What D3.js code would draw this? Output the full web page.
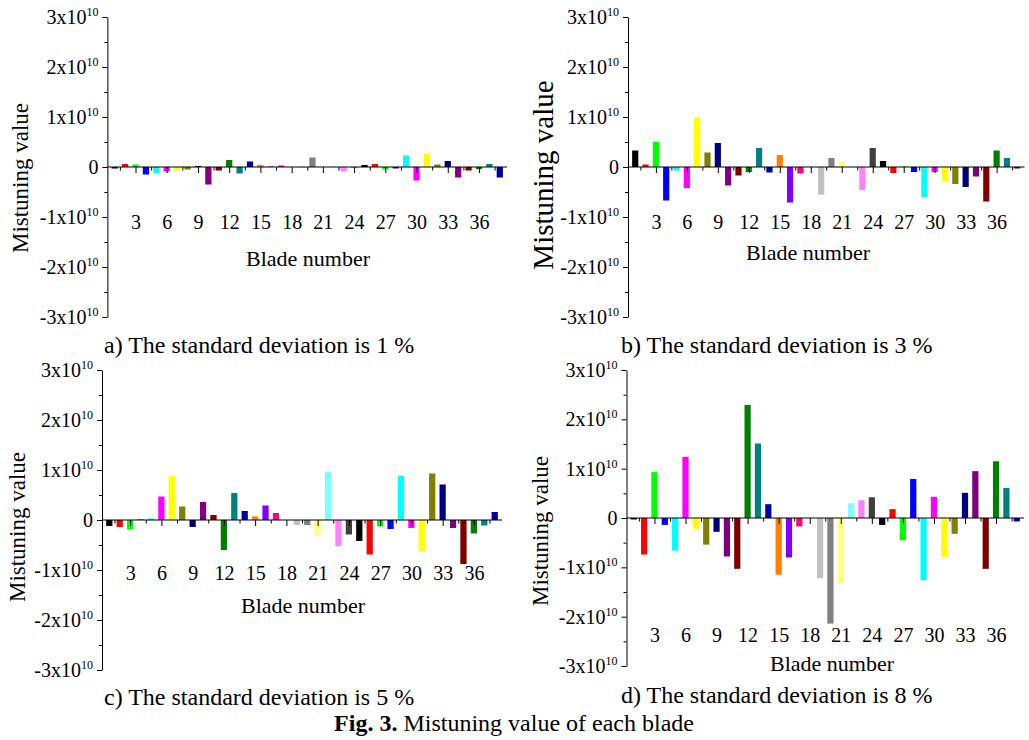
<!DOCTYPE html>
<html>
<head>
<meta charset="utf-8">
<script src="https://cdn.jsdelivr.net/npm/d3@7"></script>
<style>
  body { margin: 0; background: #fff; }
  svg { display: block; font-family: "Liberation Serif", "Times New Roman", serif; }
</style>
</head>
<body>
<svg id="chart" width="1029" height="740"></svg>
<script>
// Mistuning value per blade, in units of 1x10^10.
const blades = d3.range(1, 39);
const sd1 = [-0.03, 0.06, 0.05, -0.15, -0.12, -0.09, -0.07, -0.05, 0.02, -0.35, -0.07, 0.14, -0.13, 0.11, 0.04, 0.01, 0.03, 0, -0.01, 0.19,
  0.01, 0.01, -0.09, -0.01, 0.04, 0.06, -0.05, -0.03, 0.23, -0.27, 0.26, 0.05, 0.12, -0.21, -0.07, -0.04, 0.06, -0.21];
const sd3 = [0.33, 0.05, 0.5, -0.67, -0.07, -0.42, 0.99, 0.29, 0.48, -0.37, -0.17, -0.1, 0.38, -0.11, 0.24, -0.71, -0.13, 0, -0.55, 0.18,
  0.1, -0.01, -0.46, 0.38, 0.12, -0.12, 0.01, -0.1, -0.6, -0.1, -0.29, -0.34, -0.4, -0.19, -0.69, 0.33, 0.18, -0.03];
const sd5 = [-0.12, -0.14, -0.19, 0.01, 0.03, 0.47, 0.88, 0.27, -0.14, 0.36, 0.1, -0.6, 0.54, 0.18, 0.07, 0.29, 0.14, 0, -0.1, -0.1,
  -0.32, 0.97, -0.52, -0.29, -0.42, -0.69, -0.13, -0.18, 0.88, -0.16, -0.63, 0.93, 0.71, -0.16, -0.88, -0.27, -0.11, 0.16];
const sd8 = [-0.03, -0.74, 0.93, -0.14, -0.66, 1.24, -0.22, -0.54, -0.28, -0.78, -1.03, 2.29, 1.51, 0.28, -1.15, -0.8, -0.17, 0, -1.22, -2.14,
  -1.32, 0.3, 0.36, 0.42, -0.14, 0.18, -0.45, 0.79, -1.26, 0.43, -0.79, -0.32, 0.51, 0.95, -1.03, 1.15, 0.61, -0.07];

// Origin default colour cycle (24 colours, then it starts again).
const originColors = ['#000000', '#FF0000', '#00FF00', '#0000FF', '#00FFFF', '#FF00FF', '#FFFF00', '#808000',
  '#000080', '#800080', '#800000', '#008000', '#008080', '#0000A0', '#FF8000', '#8000FF',
  '#FF0080', '#FFFFFF', '#C0C0C0', '#808080', '#FFFF80', '#80FFFF', '#FF80FF', '#404040'];

const yTicks = [-3, -2, -1, 0, 1, 2, 3];
const yMinorTicks = [-2.5, -1.5, -0.5, 0.5, 1.5, 2.5];
const xTickLabels = [3, 6, 9, 12, 15, 18, 21, 24, 27, 30, 33, 36];
const xMinorTicks = d3.range(1.5, 38, 3);
const captions = ['a) The standard deviation is 1 %', 'b) The standard deviation is 3 %',
  'c) The standard deviation is 5 %', 'd) The standard deviation is 8 %'];
const yTitle = 'Mistuning value';
const xTitle = 'Blade number';

// Panel layout (pixels), one per sub-figure.
const panels = [
  {values: sd1, x0: 107.4, x1: 507.1, top: 17, bottom: 317, tickLabelY: 222, xTitleX: 308, xTitleY: 258, yTitleX: 20, yTitleY: 178, yTitleSize: 23, capX: 104, capY: 345},
  {values: sd3, x0: 628, x1: 1024.5, top: 17, bottom: 317, tickLabelY: 222, xTitleX: 808, xTitleY: 252, yTitleX: 543, yTitleY: 175, yTitleSize: 29, capX: 621, capY: 345},
  {values: sd5, x0: 102, x1: 502, top: 370, bottom: 670, tickLabelY: 573, xTitleX: 303, xTitleY: 605, yTitleX: 17, yTitleY: 527, yTitleSize: 23, capX: 104, capY: 697},
  {values: sd8, x0: 626.5, x1: 1024, top: 370, bottom: 666, tickLabelY: 635, xTitleX: 832, xTitleY: 663, yTitleX: 540, yTitleY: 531, yTitleSize: 23, capX: 621, capY: 695}
];

const svg = d3.select('#chart');

panels.forEach((p, pi) => {
  const g = svg.append('g');

  const x = d3.scaleBand().domain(blades).range([p.x0, p.x1]).padding(0.4);
  const center = k => x(k) + x.bandwidth() / 2;
  const xl = d3.scaleLinear().domain([1, 38]).range([center(1), center(38)]);
  const y = d3.scaleLinear().domain([-3, 3]).range([p.bottom, p.top]);
  const y0 = y(0);

  // Bars
  g.append('g').selectAll('rect')
    .data(p.values)
    .join('rect')
    .attr('x', (d, i) => x(blades[i]))
    .attr('width', x.bandwidth())
    .attr('y', d => Math.min(y(d), y0))
    .attr('height', d => Math.abs(y(d) - y0))
    .attr('fill', (d, i) => originColors[i % originColors.length]);

  // Y axis with 3x10^10 style labels
  const yAxis = g.append('g')
    .attr('transform', `translate(${p.x0},0)`)
    .call(d3.axisLeft(y).tickValues(yTicks).tickSize(5).tickSizeOuter(0).tickPadding(4));
  yAxis.selectAll('text')
    .attr('font-size', 20)
    .attr('font-family', '"Liberation Serif", "Times New Roman", serif')
    .attr('fill', '#000')
    .each(function(d) {
      const t = d3.select(this);
      t.text(d === 0 ? '0' : `${d}x10`);
      if (d !== 0) t.append('tspan').attr('dy', '-0.65em').attr('font-size', 12).text('10');
    });
  g.append('g')
    .attr('transform', `translate(${p.x0},0)`)
    .call(d3.axisLeft(y).tickValues(yMinorTicks).tickSize(3).tickFormat(''))
    .call(s => s.select('.domain').remove());

  // X axis on the zero line
  g.append('line')
    .attr('x1', p.x0).attr('x2', p.x1)
    .attr('y1', y0).attr('y2', y0)
    .attr('stroke', '#000');
  const xAxis = g.append('g')
    .attr('transform', `translate(0,${y0})`)
    .call(d3.axisBottom(xl).tickValues(xTickLabels).tickSize(6).tickFormat(d3.format('d')))
    .call(s => s.select('.domain').remove());
  xAxis.selectAll('text')
    .attr('y', p.tickLabelY - y0)
    .attr('dy', '0.35em')
    .attr('font-size', 20)
    .attr('font-family', '"Liberation Serif", "Times New Roman", serif')
    .attr('fill', '#000');
  g.append('g')
    .attr('transform', `translate(0,${y0})`)
    .call(d3.axisBottom(xl).tickValues(xMinorTicks).tickSize(3.5).tickFormat(''))
    .call(s => s.select('.domain').remove());

  // Titles
  g.append('text')
    .attr('x', p.xTitleX).attr('y', p.xTitleY).attr('dy', '0.35em')
    .attr('text-anchor', 'middle').attr('font-size', 22)
    .text(xTitle);
  g.append('text')
    .attr('transform', `translate(${p.yTitleX},${p.yTitleY}) rotate(-90)`)
    .attr('dy', '0.35em')
    .attr('text-anchor', 'middle').attr('font-size', p.yTitleSize)
    .text(yTitle);
  g.append('text')
    .attr('x', p.capX).attr('y', p.capY).attr('dy', '0.35em')
    .attr('font-size', 24)
    .text(captions[pi]);
});

// Figure caption
const fig = svg.append('text')
  .attr('x', 514).attr('y', 723).attr('dy', '0.35em')
  .attr('text-anchor', 'middle').attr('font-size', 24);
fig.append('tspan').attr('font-weight', 'bold').text('Fig. 3.');
fig.append('tspan').text(' Mistuning value of each blade');
</script>
</body>
</html>
